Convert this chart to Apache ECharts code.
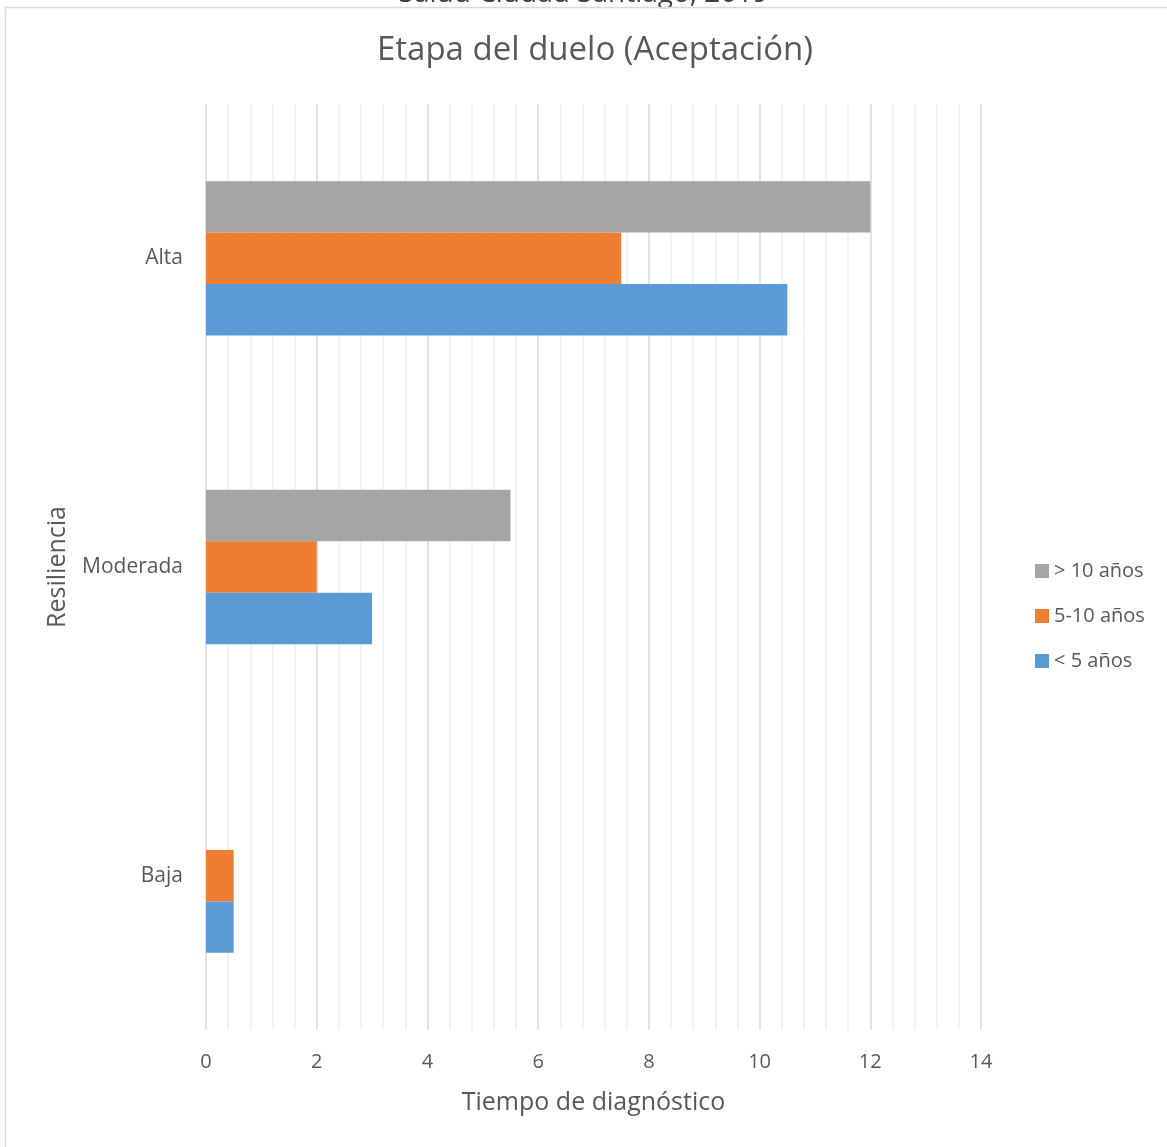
<!DOCTYPE html>
<html>
<head>
<meta charset="utf-8">
<script src="https://cdn.jsdelivr.net/npm/echarts@6/dist/echarts.min.js"></script>
<style>
  html, body { margin: 0; padding: 0; background: #ffffff; }
  #chart { width: 1167px; height: 1147px; }
</style>
</head>
<body>
<div id="chart"></div>
<script>
// Resilience levels (bottom to top on the category axis)
const categories = ['Baja', 'Moderada', 'Alta'];

// Time since diagnosis groups
const seriesNames = ['> 10 años', '5-10 años', '< 5 años'];
const mas10 = [0, 5.5, 12];
const entre5y10 = [0.5, 2, 7.5];
const menos5 = [0.5, 3, 10.5];
const xTicks = [0, 2, 4, 6, 8, 10, 12, 14];

const colors = ['#a5a5a5', '#ed7d31', '#5b9bd5'];
const textColor = '#595959';
const fontFamily = '"Open Sans", "Noto Sans", sans-serif';

const chart = echarts.init(document.getElementById('chart'), null, { renderer: 'canvas' });

const option = {
  animation: false,
  backgroundColor: '#ffffff',
  textStyle: { fontFamily: fontFamily, color: textColor },
  title: {
    text: 'Etapa del duelo (Aceptación)',
    left: 590,
    top: 29,
    textAlign: 'center',
    textStyle: { fontFamily: fontFamily, fontSize: 33, fontWeight: 'normal', color: textColor }
  },
  graphic: [
    {
      type: 'rect',
      shape: { x: 5.5, y: 7.5, width: 1200, height: 1200 },
      style: { fill: 'none', stroke: '#d9d9d9', lineWidth: 1.5 },
      z: 0
    },
    {
      type: 'text',
      left: 'center',
      top: -20,
      style: {
        text: 'Salud Ciudad Santiago, 2019',
        fontFamily: fontFamily,
        fontSize: 28,
        fill: '#404040'
      },
      z: -1
    },
    {
      type: 'rect',
      shape: { x: 0, y: 8.3, width: 1167, height: 20 },
      style: { fill: '#ffffff' },
      z: -1
    }
  ],
  legend: {
    orient: 'vertical',
    left: 1035,
    top: 561,
    padding: 0,
    itemWidth: 14,
    itemHeight: 14,
    itemGap: 25,
    icon: 'rect',
    data: ['> 10 años', '5-10 años', '< 5 años'],
    textStyle: { fontFamily: fontFamily, fontSize: 20, color: textColor, padding: [0, 0, 0, 0] }
  },
  grid: {
    left: 206,
    right: 1167 - 981,
    top: 104,
    bottom: 1147 - 1030,
    containLabel: false
  },
  xAxis: {
    type: 'value',
    min: 0,
    max: 14,
    interval: 2,
    name: 'Tiempo de diagnóstico',
    nameLocation: 'middle',
    nameGap: 60,
    nameTextStyle: { fontFamily: fontFamily, fontSize: 25, color: textColor },
    axisLine: { show: false },
    axisTick: { show: false },
    axisLabel: {
      fontFamily: fontFamily, fontSize: 20, color: textColor, margin: 22,
      formatter: function (v) { return xTicks.indexOf(v) >= 0 ? String(v) : ''; }
    },
    splitLine: { show: true, lineStyle: { color: '#d9d9d9', width: 1.5 } },
    minorTick: { show: false, splitNumber: 5 },
    minorSplitLine: { show: true, lineStyle: { color: '#efefef', width: 1.5 } }
  },
  yAxis: {
    type: 'category',
    data: categories,
    name: 'Resiliencia',
    nameLocation: 'middle',
    nameGap: 136,
    nameRotate: 90,
    nameTextStyle: { fontFamily: fontFamily, fontSize: 25, color: textColor },
    axisLine: { show: false },
    axisTick: { show: false },
    axisLabel: { fontFamily: fontFamily, fontSize: 21, color: textColor, margin: 23 },
    splitLine: { show: false }
  },
  series: [
    { name: seriesNames[0], type: 'bar', data: mas10, itemStyle: { color: colors[0] }, barGap: '0%', barCategoryGap: '50%' },
    { name: seriesNames[1], type: 'bar', data: entre5y10, itemStyle: { color: colors[1] }, barGap: '0%', barCategoryGap: '50%' },
    { name: seriesNames[2], type: 'bar', data: menos5, itemStyle: { color: colors[2] }, barGap: '0%', barCategoryGap: '50%' }
  ]
};

chart.setOption(option);
</script>
</body>
</html>
